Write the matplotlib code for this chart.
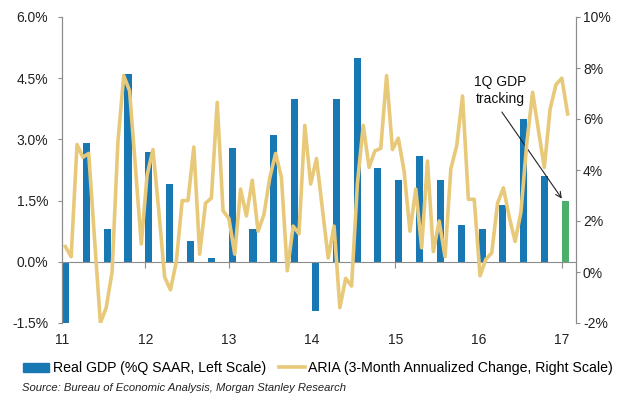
import numpy as np
import matplotlib
matplotlib.use("Agg")
import matplotlib.pyplot as plt
import matplotlib.transforms as mtransforms

plt.rcParams['font.family'] = ['Liberation Sans', 'DejaVu Sans']

# real GDP, % Q SAAR, quarterly from 2011Q1 (last one is 1Q17 tracking)
gdp_start_year = 2011
gdp = [-1.5, 2.9, 0.8, 4.6,
       2.7, 1.9, 0.5, 0.1,
       2.8, 0.8, 3.1, 4.0,
       -1.2, 4.0, 5.0, 2.3,
       2.0, 2.6, 2.0, 0.9,
       0.8, 1.4, 3.5, 2.1,
       1.5]

# ARIA, 3-month annualized change (right scale)
aria_first = 2011.04
aria_last = 2017.07
aria = [1.0, 0.6, 5.0, 4.5, 4.65, 1.3, -2.0, -1.4, 0.0, 5.1,
        7.7, 7.1, 4.1, 1.1, 3.8, 4.8, 2.4, -0.2, -0.7, 0.4,
        2.8, 2.8, 4.9, 0.7, 2.7, 2.9, 6.65, 2.4, 2.1, 0.7,
        3.25, 2.2, 3.6, 1.6, 2.25, 3.7, 4.65, 3.7, 0.05, 1.8,
        1.5, 5.75, 3.45, 4.45, 2.5, 0.55, 1.8, -1.4, -0.25, -0.55,
        3.45, 5.75, 4.1, 4.75, 4.85, 7.7, 4.8, 5.25, 3.95, 1.6,
        3.25, 0.95, 4.35, 0.8, 2.0, 0.6, 4.05, 4.95, 6.9, 2.85,
        2.85, -0.15, 0.5, 0.75, 2.7, 3.3, 2.15, 1.2, 2.35, 5.05,
        7.05, 5.55, 4.1, 6.4, 7.35, 7.6, 6.2]

years = [2011, 2012, 2013, 2014, 2015, 2016, 2017]
year_labels = ['11', '12', '13', '14', '15', '16', '17']

blue = '#1878B4'
green = '#4DAF6C'
gold = '#E8C97A'
grey = '#8C8C8C'

fig = plt.figure(figsize=(6.24, 4.01), dpi=100)
ax = fig.add_axes([62/624, 78/401, 514/624, 306/401])
ax2 = ax.twinx()

gdp_x = [gdp_start_year + i * 0.25 for i in range(len(gdp))]
colors = [blue] * (len(gdp) - 1) + [green]
ax.bar(gdp_x, gdp, width=0.085, align='edge', color=colors, zorder=2)

aria_x = np.linspace(aria_first, aria_last, len(aria))
ax2.plot(aria_x, aria, color=gold, lw=2.6, solid_joinstyle='round', zorder=3)

ax.set_xlim(2011, 2017.17)
ax.set_ylim(-1.5, 6.0)
ax2.set_ylim(-2, 10)

ax.set_yticks([-1.5, 0, 1.5, 3.0, 4.5, 6.0])
ax.set_yticklabels(['-1.5%', '0.0%', '1.5%', '3.0%', '4.5%', '6.0%'])
ax2.set_yticks([-2, 0, 2, 4, 6, 8, 10])
ax2.set_yticklabels(['-2%', '0%', '2%', '4%', '6%', '8%', '10%'])

ax.set_xticks(years)
ax.set_xticklabels(year_labels)
offset = mtransforms.ScaledTranslation(0.04, 0, fig.dpi_scale_trans)
for lab in ax.get_xticklabels():
    lab.set_transform(lab.get_transform() + offset)

for a in (ax, ax2):
    a.spines['top'].set_visible(False)
    a.spines['left'].set_color(grey)
    a.spines['right'].set_color(grey)
    a.spines['bottom'].set_visible(False)
ax.spines['bottom'].set_visible(True)
ax.spines['bottom'].set_position(('data', 0))
ax.spines['bottom'].set_color(grey)

ax.tick_params(axis='y', direction='out', length=3, color=grey, labelsize=10,
               labelcolor='#222222', pad=7)
ax2.tick_params(axis='y', direction='out', length=3, color=grey, labelsize=10,
                labelcolor='#222222', pad=2)
ax.tick_params(axis='x', direction='out', length=4, color=grey, labelsize=10,
               labelcolor='#222222', pad=47)

ax.annotate('1Q GDP\ntracking', xy=(2017.0, 1.55), xytext=(2016.26, 4.2),
            ha='center', va='center', fontsize=10, color='#111111',
            linespacing=1.25,
            arrowprops=dict(arrowstyle='->', color='#222222', lw=0.8,
                            relpos=(0.45, 0.0), shrinkA=3, shrinkB=0),
            zorder=5)

from matplotlib.patches import Patch
from matplotlib.lines import Line2D
handles = [Patch(color=blue), Line2D([], [], color=gold, lw=2.6)]
labels = ['Real GDP (%Q SAAR, Left Scale)',
          'ARIA (3-Month Annualized Change, Right Scale)']
fig.legend(handles, labels, loc='center left', bbox_to_anchor=(0.037, 0.082),
           ncol=2, frameon=False, fontsize=10.2, handlelength=1.85,
           handleheight=0.6, handletextpad=0.25, columnspacing=0.9,
           borderpad=0, borderaxespad=0)

fig.text(0.035, 0.02, 'Source: Bureau of Economic Analysis, Morgan Stanley Research',
         fontsize=8.1, style='italic', color='#222222', va='bottom', ha='left')

fig.savefig('out.png', dpi=100, facecolor='white')
